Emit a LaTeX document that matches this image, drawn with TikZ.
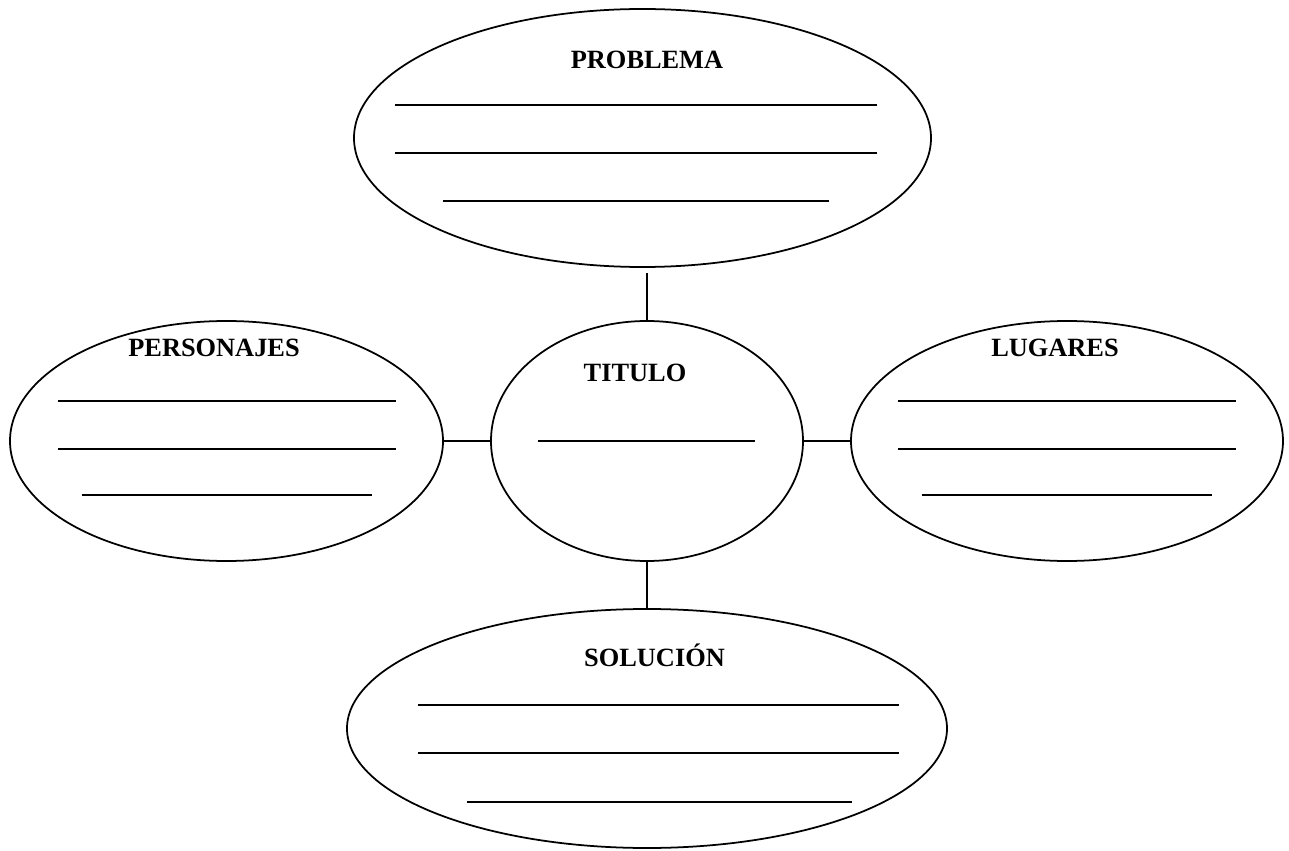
\documentclass[tikz,border=0pt]{standalone}
\usepackage{fontspec}
\setmainfont{Liberation Serif}
\usetikzlibrary{shapes.geometric}

\begin{document}
\begin{tikzpicture}[x=0.02cm, y=-0.02cm, line width=1pt,
  burbuja/.style={draw, ellipse, inner sep=0, outer sep=0},
  rotulo/.style={anchor=base, inner sep=0, font=\fontsize{15pt}{18pt}\selectfont\bfseries}]

  % 单位长度
  \def\u{0.02cm}

  \useasboundingbox (0, 0) rectangle (1289, 851);

  % 椭圆
  \node[burbuja, minimum width=577*\u, minimum height=258*\u] (problema) at (642.5, 138) {};
  \node[burbuja, minimum width=433*\u, minimum height=240*\u] (personajes) at (226.5, 441) {};
  \node[burbuja, minimum width=312*\u, minimum height=240*\u] (titulo) at (647, 441) {};
  \node[burbuja, minimum width=432*\u, minimum height=240*\u] (lugares) at (1067, 441) {};
  \node[burbuja, minimum width=600*\u, minimum height=239*\u] (solucion) at (647, 728.5) {};

  % 标题
  \node[rotulo] (t-problema) at (647, 69) {PROBLEMA};
  \node[rotulo] (t-personajes) at (214, 357) {PERSONAJES};
  \node[rotulo] (t-titulo) at (635, 381) {TITULO};
  \node[rotulo] (t-lugares) at (1055, 357) {LUGARES};
  \node[rotulo] (t-solucion) at (654.5, 666) {SOLUCIÓN};

  % 横线
  \foreach \y in {105, 153} \draw (395, \y) -- (877, \y);
  \draw (443, 201) -- (829, 201);
  \foreach \y in {401, 449} \draw (58, \y) -- (396, \y);
  \draw (82, 495) -- (372, 495);
  \draw (538, 441) -- (755, 441);
  \foreach \y in {401, 449} \draw (898, \y) -- (1236, \y);
  \draw (922, 495) -- (1212, 495);
  \foreach \y in {705, 753} \draw (418, \y) -- (899, \y);
  \draw (467, 802) -- (852, 802);

  % 连线
  \draw[line width=0.8pt, shorten >=6*\u] (titulo.north) -- (titulo.north |- problema.south);
  \draw[line width=0.8pt] (personajes.east) -- (titulo.west);
  \draw[line width=0.8pt] (titulo.east) -- (lugares.west);
  \draw[line width=0.8pt] (titulo.south) -- (solucion.north);

\end{tikzpicture}
\end{document}
